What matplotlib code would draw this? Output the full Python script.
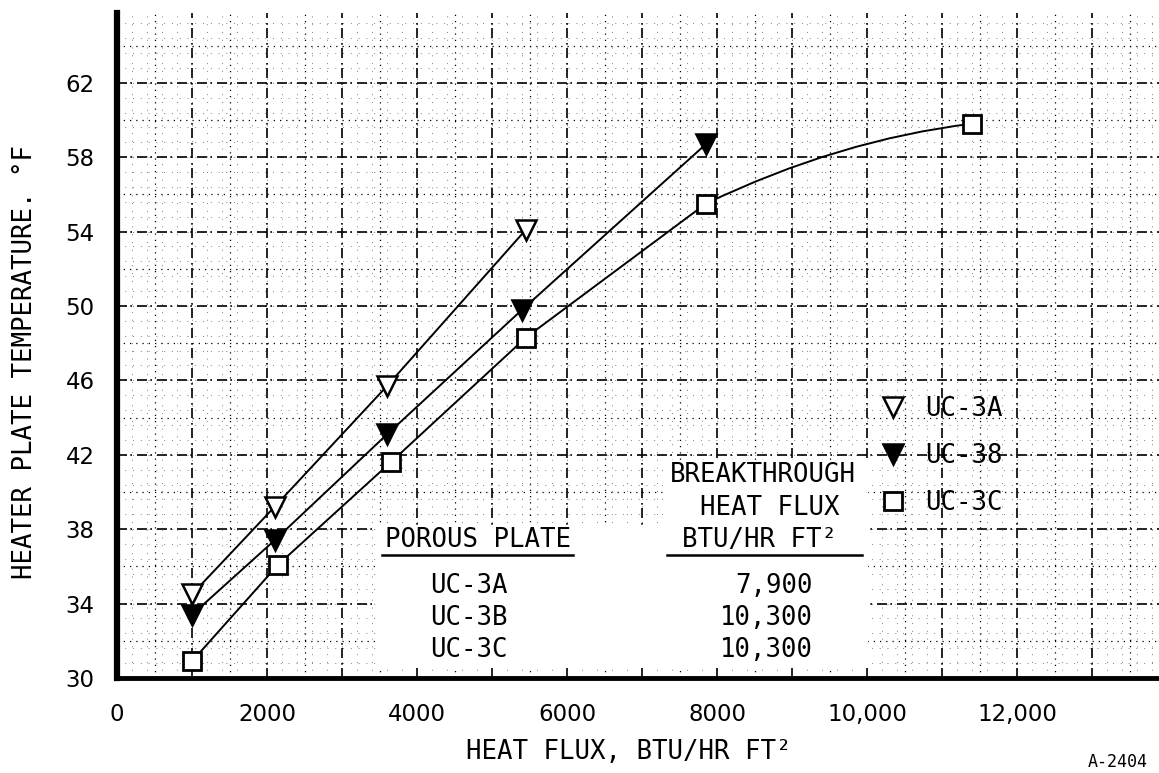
import numpy as np
import matplotlib.pyplot as plt
from matplotlib.lines import Line2D
from matplotlib.path import Path
from matplotlib.patches import PathPatch, Rectangle

# Heat flux (BTU/hr ft^2) vs. heater plate temperature (deg F) for each porous plate
flux_3a = [1000, 2100, 3600, 5450]
temp_3a = [34.5, 39.2, 45.7, 54.1]

flux_3b = [1000, 2100, 3600, 5400, 7850]
temp_3b = [33.4, 37.4, 43.1, 49.8, 58.7]

flux_3c = [1000, 2150, 3650, 5450, 7850, 11400]
temp_3c = [30.9, 36.1, 41.6, 48.3, 55.5, 59.8]

plates = ["UC-3A", "UC-3B", "UC-3C"]
breakthrough = ["7,900", "10,300", "10,300"]
legend_names = ["UC-3A", "UC-38", "UC-3C"]

x_ticks = [0, 2000, 4000, 6000, 8000, 10000, 12000]
x_tick_labels = ["0", "2000", "4000", "6000", "8000", "10,000", "12,000"]
y_ticks = [30, 34, 38, 42, 46, 50, 54, 58, 62]

W, H = 1159, 773
MONO = ["DejaVu Sans Mono"]
FS = 18.5


def fx(px):
    return px / W


def fy(py):
    return 1 - py / H


fig = plt.figure(figsize=(W / 100, H / 100), dpi=100)
fig.patch.set_facecolor("white")
ax = fig.add_axes([fx(117), fy(678), 1 - fx(117), (678 - 13) / H])
ax.set_xlim(0, 13890)
ax.set_ylim(30, 65.75)

# graph-paper grid: fine, medium and heavy rulings
for xv in np.arange(0, 14000, 200):
    ax.axvline(xv, color="0.5", lw=0.7, ls=(0, (1, 7)), zorder=0.5)
for yv in np.arange(30, 66, 0.8):
    ax.axhline(yv, color="0.5", lw=0.7, ls=(0, (1, 7)), zorder=0.5)
for xv in np.arange(500, 14000, 1000):
    ax.axvline(xv, color="k", lw=0.9, ls=(0, (1, 4)), zorder=0.8)
for yv in np.arange(32, 66, 4):
    ax.axhline(yv, color="k", lw=0.9, ls=(0, (1, 4)), zorder=0.8)
for xv in np.arange(1000, 14000, 1000):
    ax.axvline(xv, color="k", lw=1.2, ls=(0, (6, 2, 1, 3)), zorder=1)
for yv in np.arange(34, 66, 4):
    ax.axhline(yv, color="k", lw=1.2, ls=(0, (6, 2, 1, 3)), zorder=1)

# blank paper behind the breakthrough table
for x0p, y0p, x1p, y1p in [(376, 526, 664, 668), (664, 460, 868, 668)]:
    fig.add_artist(Rectangle((fx(x0p), fy(y1p)), fx(x1p) - fx(x0p), fy(y0p) - fy(y1p),
                             transform=fig.transFigure, facecolor="white",
                             edgecolor="none", zorder=1.5))

line_kw = dict(color="k", lw=1.4, zorder=3)
ax.plot(flux_3a, temp_3a, **line_kw)
ax.plot(flux_3b, temp_3b, **line_kw)
ax.plot(flux_3c[:-1], temp_3c[:-1], **line_kw)

# smooth final UC-3C segment: quadratic curve using the neighbouring-point tangent
x0, y0 = flux_3c[-2], temp_3c[-2]
x1, y1 = flux_3c[-1], temp_3c[-1]
slope = (temp_3c[-1] - temp_3c[-3]) / (flux_3c[-1] - flux_3c[-3])
xc = 0.5 * (x0 + x1)
yc = y0 + slope * (xc - x0)
curve = Path([(x0, y0), (xc, yc), (x1, y1)], [Path.MOVETO, Path.CURVE3, Path.CURVE3])
ax.add_patch(PathPatch(curve, fill=False, edgecolor="k", lw=1.4, zorder=3))

mk_a = dict(ls="none", marker="v", mfc="white", mec="k", ms=15, mew=1.8, zorder=4)
mk_b = dict(ls="none", marker="v", mfc="k", mec="k", ms=15, mew=1.8, zorder=4)
mk_c = dict(ls="none", marker="s", mfc="white", mec="k", ms=13, mew=2.0, zorder=4)
ax.plot(flux_3a, temp_3a, **mk_a)
ax.plot(flux_3b, temp_3b, **mk_b)
ax.plot(flux_3c, temp_3c, **mk_c)

# axes frame
for side in ("top", "right"):
    ax.spines[side].set_visible(False)
ax.spines["left"].set_linewidth(4.5)
ax.spines["bottom"].set_linewidth(3.5)
ax.spines["left"].set_zorder(5)
ax.spines["bottom"].set_zorder(5)

ax.set_xticks(x_ticks)
ax.set_xticklabels(x_tick_labels)
ax.set_yticks(y_ticks)
ax.tick_params(length=0, labelsize=16.5, colors="k")
ax.tick_params(axis="x", pad=18)
ax.tick_params(axis="y", pad=16)
for lbl in ax.get_xticklabels() + ax.get_yticklabels():
    lbl.set_fontfamily("DejaVu Sans")

fig.text(fx(25), fy(362), "HEATER PLATE TEMPERATURE. \u00b0F", rotation=90,
         ha="center", va="center", fontsize=FS, family=MONO)
fig.text(fx(629), fy(752), "HEAT FLUX, BTU/HR FT\u00b2",
         ha="center", va="center", fontsize=FS, family=MONO)
fig.text(fx(1088), fy(771), "A-2404", ha="left", va="bottom", fontsize=12, family=MONO)

# breakthrough table
txt = dict(fontsize=FS, family=MONO, zorder=2)
fig.text(fx(478), fy(540), "POROUS PLATE", ha="center", va="center", **txt)
fig.text(fx(763), fy(475), "BREAKTHROUGH", ha="center", va="center", **txt)
fig.text(fx(770), fy(508), "HEAT FLUX", ha="center", va="center", **txt)
fig.text(fx(760), fy(540), "BTU/HR FT\u00b2", ha="center", va="center", **txt)
fig.add_artist(Line2D([fx(382), fx(573)], [fy(555), fy(555)], color="k", lw=1.8, zorder=2))
fig.add_artist(Line2D([fx(667), fx(862)], [fy(555), fy(555)], color="k", lw=1.8, zorder=2))
row_y = [586, 618, 650]
for name, flux, ry in zip(plates, breakthrough, row_y):
    fig.text(fx(430), fy(ry), name, ha="left", va="center", **txt)
    fig.text(fx(813), fy(ry), flux, ha="right", va="center", **txt)

# symbol key
handles = [Line2D([], [], **mk_a), Line2D([], [], **mk_b), Line2D([], [], **mk_c)]
leg = ax.legend(handles, legend_names, loc="center left",
                bbox_to_anchor=(fx(880), fy(456)), bbox_transform=fig.transFigure,
                frameon=False, prop={"family": MONO, "size": FS},
                handlelength=1.0, handletextpad=0.75, labelspacing=0.8,
                borderpad=0, borderaxespad=0, numpoints=1)
leg.set_zorder(6)

fig.savefig("out.png", dpi=100, facecolor="white")
